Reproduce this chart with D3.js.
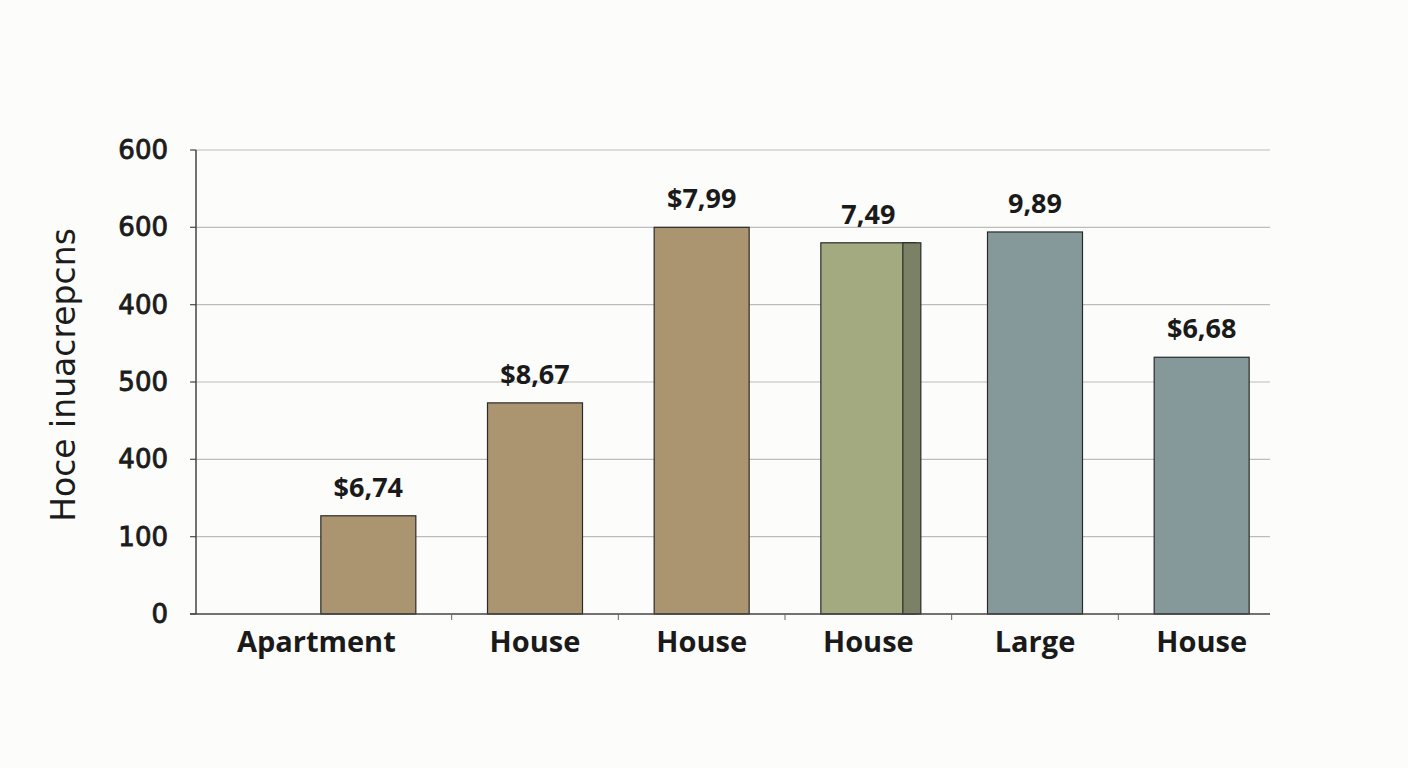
<html>
<head>
<meta charset="utf-8">
<script src="https://cdnjs.cloudflare.com/ajax/libs/d3/7.8.5/d3.min.js"></script>
<style>
  body { margin: 0; background: #fcfcfb; }
  svg { display: block; }
</style>
</head>
<body>
<svg class="chart"></svg>
<script>
// chart data
var categories = ["Apartment", "House", "House", "House", "Large", "House"];
var values = [1.27, 2.73, 5.0, 4.8, 4.94, 3.32];
var valueLabels = ["$6,74", "$8,67", "$7,99", "7,49", "9,89", "$6,68"];
var barColors = ["#ab9470", "#ab9470", "#ab9470", "#a3aa7f", "#85999a", "#85999a"];
var sideShade = [0, 0, 0, 1, 0, 0];
var tickLabels = ["0", "100", "400", "500", "400", "600", "600"];
var yTitle = "Hoce inuacrepcns";

var W = 1408, H = 768;
var plotLeft = 196, plotRight = 1270, plotTop = 150, plotBottom = 614;

var svg = d3.select(".chart")
    .attr("width", W)
    .attr("height", H);

var y = d3.scaleLinear()
    .domain([0, tickLabels.length - 1])
    .range([plotBottom, plotTop]);

var x = d3.scaleBand()
    .domain(d3.range(categories.length))
    .range([285, 1285])
    .paddingInner(0.43)
    .paddingOuter(0.215);

// gridlines
svg.append("g")
    .selectAll("line")
    .data(d3.range(1, tickLabels.length))
    .enter().append("line")
    .attr("x1", plotLeft - 5)
    .attr("x2", plotRight)
    .attr("y1", function(d) { return y(d); })
    .attr("y2", function(d) { return y(d); })
    .attr("stroke", "#bcbcbc")
    .attr("stroke-width", 1.2);

// little ticks left of the axis
svg.append("g")
    .selectAll("line")
    .data(d3.range(0, tickLabels.length))
    .enter().append("line")
    .attr("x1", plotLeft - 6)
    .attr("x2", plotLeft)
    .attr("y1", function(d) { return y(d); })
    .attr("y2", function(d) { return y(d); })
    .attr("stroke", "#555")
    .attr("stroke-width", 1.2);

// y tick labels
svg.append("g")
    .selectAll("text")
    .data(tickLabels)
    .enter().append("text")
    .attr("x", 168)
    .attr("y", function(d, i) { return y(i) + 9; })
    .attr("text-anchor", "end")
    .style("font-family", "'DejaVu Sans', sans-serif")
    .style("font-size", "26px")
    .style("fill", "#1c1c1c")
    .style("stroke", "#1c1c1c")
    .style("stroke-width", 0.9)
    .text(function(d) { return d; });

// y title
svg.append("text")
    .attr("transform", "translate(75,375) rotate(-90)")
    .attr("text-anchor", "middle")
    .style("font-family", "'DejaVu Sans', sans-serif")
    .style("font-size", "33px")
    .style("fill", "#1c1c1c")
    .text(yTitle);

// bars
var bar = svg.selectAll("g.bar")
    .data(values)
    .enter().append("g")
    .attr("class", "bar");

bar.append("rect")
    .attr("x", function(d, i) { return x(i); })
    .attr("y", function(d) { return y(d); })
    .attr("width", x.bandwidth())
    .attr("height", function(d) { return plotBottom - y(d); })
    .attr("fill", function(d, i) { return barColors[i]; })
    .attr("stroke", "#2a2a2a")
    .attr("stroke-width", 1.2);

// darker side strip on the shaded bar
bar.filter(function(d, i) { return sideShade[i]; })
    .append("rect")
    .attr("x", function(d) { return x(values.indexOf(d)) + x.bandwidth() - 13; })
    .attr("y", function(d) { return y(d); })
    .attr("width", 18)
    .attr("height", function(d) { return plotBottom - y(d); })
    .attr("fill", "#7a8164")
    .attr("stroke", "#2a2a2a")
    .attr("stroke-width", 1.2);

bar.append("text")
    .attr("x", function(d, i) { return x(i) + x.bandwidth() / 2; })
    .attr("y", function(d) { return y(d) - 19; })
    .attr("text-anchor", "middle")
    .style("font-family", "'Open Sans', sans-serif")
    .style("font-weight", "bold")
    .style("font-size", "27px")
    .style("fill", "#1a1a1a")
    .text(function(d, i) { return valueLabels[i]; });

// axes lines
svg.append("line")
    .attr("x1", plotLeft).attr("x2", plotLeft)
    .attr("y1", plotTop).attr("y2", plotBottom)
    .attr("stroke", "#444").attr("stroke-width", 1.5);
svg.append("line")
    .attr("x1", plotLeft - 6).attr("x2", plotRight)
    .attr("y1", plotBottom).attr("y2", plotBottom)
    .attr("stroke", "#444").attr("stroke-width", 1.5);

// small ticks between categories
svg.append("g")
    .selectAll("line")
    .data(d3.range(1, categories.length))
    .enter().append("line")
    .attr("x1", function(d) { return x(d) - x.step() * x.paddingInner() / 2; })
    .attr("x2", function(d) { return x(d) - x.step() * x.paddingInner() / 2; })
    .attr("y1", plotBottom)
    .attr("y2", plotBottom + 6)
    .attr("stroke", "#666");

// category labels
svg.append("g")
    .selectAll("text")
    .data(categories)
    .enter().append("text")
    .attr("x", function(d, i) { return x(i) + x.bandwidth() / 2 - (i === 0 ? 52 : 0); })
    .attr("y", 652)
    .attr("text-anchor", "middle")
    .style("font-family", "'Open Sans', sans-serif")
    .style("font-weight", "bold")
    .style("font-size", "29px")
    .style("fill", "#1a1a1a")
    .text(function(d) { return d; });
</script>
</body>
</html>
